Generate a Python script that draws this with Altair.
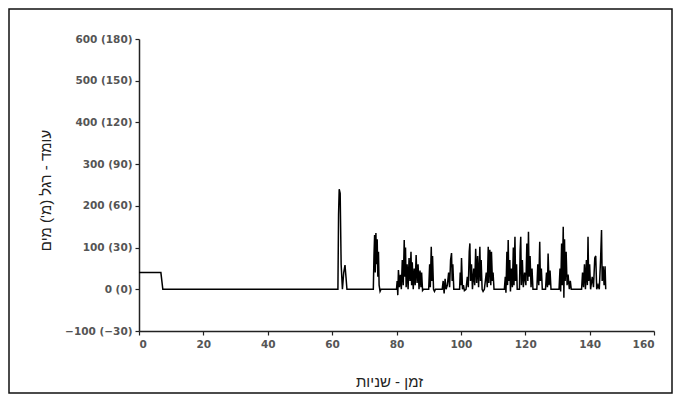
import altair as alt
import pandas as pd

# time (s) and depth values
T = [0, 6.8, 7.4, 61.8, 62.0, 62.2, 62.5, 62.8, 63.2, 63.6, 64.0, 64.3, 64.6, 72.8,
     73.0, 73.2, 73.4, 73.6, 73.8, 74.0, 74.2, 74.4, 74.6, 74.9, 75.2, 80.0,
     80.2, 80.4, 80.6, 80.9, 81.2, 81.5, 81.8, 82.1, 82.4, 82.6, 82.8, 83.0, 83.3, 83.6, 83.9,
     84.2, 84.5, 84.7, 84.9, 85.2, 85.5, 85.8, 86.1, 86.4, 86.7, 87.0, 87.3, 87.6, 87.8, 88.1, 88.4,
     90.0, 90.3, 90.5, 90.8, 91.0, 91.2, 91.5, 91.8, 92.1,
     94.2, 94.5, 94.8, 95.1, 95.4, 95.8, 96.2, 96.5, 96.8, 97.1, 97.3, 97.5, 97.8,
     99.6, 99.8, 100.0, 100.2, 100.5, 100.8, 101.1, 101.6, 102.0, 102.3, 102.6, 102.8, 103.0,
     103.3, 103.6, 104.0, 104.3, 104.6, 104.9, 105.2, 105.5, 105.9, 106.1, 106.3, 106.6, 106.9,
     107.3, 107.9, 108.2, 108.5, 108.7, 109.0, 109.3, 109.5, 109.8, 110.0, 110.3,
     113.5, 113.8, 114.0, 114.3, 114.5, 114.7, 114.9, 115.2, 115.4, 115.7, 116.0, 116.3, 116.5,
     116.8, 117.0, 117.3, 117.5,
     118.2, 118.4, 118.6, 118.8, 119.1, 119.4, 119.8, 120.2, 120.5, 120.8, 121.0, 121.2, 121.5,
     121.8, 122.1, 122.4,
     123.6, 123.9, 124.2, 124.5, 124.7, 125.0, 125.3, 126.3, 126.6, 126.9, 127.1, 127.4, 127.7, 128.0,
     130.5, 130.8, 131.0, 131.3, 131.5, 131.8, 132.0, 132.2, 132.4, 132.7, 133.0, 133.3, 133.7,
     134.0, 134.3,
     137.5, 137.8, 138.1, 138.4, 138.7, 139.0, 139.3, 139.5, 139.7, 140.0, 140.3, 140.8, 141.2,
     141.6, 141.9, 142.2, 142.6, 143.0, 143.4, 143.7, 143.9, 144.2, 144.5, 144.8, 145.0]

V = [40, 40, 0, 0, 180, 240, 230, 60, 0, 40, 58, 30, 0, 0,
     80, 130, 40, 135, 60, 120, 30, 90, 10, -5, 0, 0,
     20, -14, 46, 5, 35, 0, 70, 10, 118, 30, 100, 5, 60, 0, 75,
     20, 90, 10, 65, 0, 50, 10, 82, 15, 60, 0, 45, 5, 40, -3, 0,
     0, 60, 5, 102, 20, 80, 0, -5, 0,
     0, 20, -10, 25, 0, 10, 40, 5, 70, 87, 20, 60, 0,
     0, 40, 10, 75, 0, 10, -3, 0, 30, 5, 90, 110, 20,
     60, 0, 50, 10, 97, 15, 80, 5, 102, 20, 70, 0, -5,
     0, 40, 5, 102, 15, 95, 10, 90, 20, 40, 0,
     0, 30, -8, 90, 10, 118, 20, 70, -5, 50, 5, 100, 10,
     126, 20, 60, 0,
     0, 90, 126, 10, 70, 5, 40, 10, 110, 20, 138, 30, 80,
     5, 50, 0,
     0, 60, 10, 114, 20, 50, 0, 0, 40, 5, 86, 10, 45, 0,
     0, 50, -5, 110, 10, 150, -20, 120, 20, 90, 10, 35, 0,
     20, 0,
     0, 40, 5, 60, 0, 70, 10, 126, 20, 60, 0, 30, 5,
     75, 80, 0, 10, 0, 70, 142, 20, 55, 10, 55, 0]

X_TICKS = [0, 20, 40, 60, 80, 100, 120, 140, 160]
Y_TICKS = [-100, 0, 100, 200, 300, 400, 500, 600]
X_TITLE = "זמן - שניות"
Y_TITLE = "עומד - רגל (מ') מים"

df = pd.DataFrame({"t": T, "v": V})

TITLE_FONT = "Liberation Sans"
LABEL_FONT = "DejaVu Sans"

y_label = ("(datum.value < 0 ? '−' : '') + abs(datum.value) + ' (' + "
           "(datum.value < 0 ? '−' : '') + round(abs(datum.value) * 3 / 10) + ')'")

line = alt.Chart(df).mark_line(color="#000000", strokeWidth=1.5).encode(
    x=alt.X("t:Q", scale=alt.Scale(domain=[0, 160], nice=False, zero=False),
            axis=alt.Axis(values=X_TICKS, title=X_TITLE, grid=False,
                          titleX=250, titleY=50, titleBaseline="middle",
                          titleFontSize=15, titleFontWeight="normal", titleFont=TITLE_FONT,
                          titleColor="#222", labelPadding=4)),
    y=alt.Y("v:Q", scale=alt.Scale(domain=[-100, 600], nice=False, zero=False),
            axis=alt.Axis(values=Y_TICKS, title=Y_TITLE, grid=False, labelExpr=y_label,
                          titleX=-94, titleY=151, titleAngle=270, titleAlign="center",
                          titleBaseline="middle",
                          titleFontSize=15, titleFontWeight="normal", titleFont=TITLE_FONT,
                          titleColor="#222", labelPadding=3)),
)

frame = alt.Chart(pd.DataFrame({"a": [0]})).mark_rect(
    filled=False, stroke="#111", strokeWidth=1.5
).encode(
    x=alt.value(-130), x2=alt.value(533), y=alt.value(-30), y2=alt.value(354)
)

chart = alt.layer(line, frame).properties(
    width=515, height=292,
    autosize=alt.AutoSizeParams(type="none"),
    padding={"left": 131, "top": 31, "right": 19, "bottom": 63},
).configure_view(stroke=None).configure_axis(
    domainColor="#222", domainWidth=1.5, tickColor="#222", tickWidth=1.2, tickSize=4,
    labelFont=LABEL_FONT, labelFontSize=10.5, labelFontWeight="bold", labelColor="#555",
)

chart.save("out.html", embed_options={"renderer": "svg", "actions": False})
